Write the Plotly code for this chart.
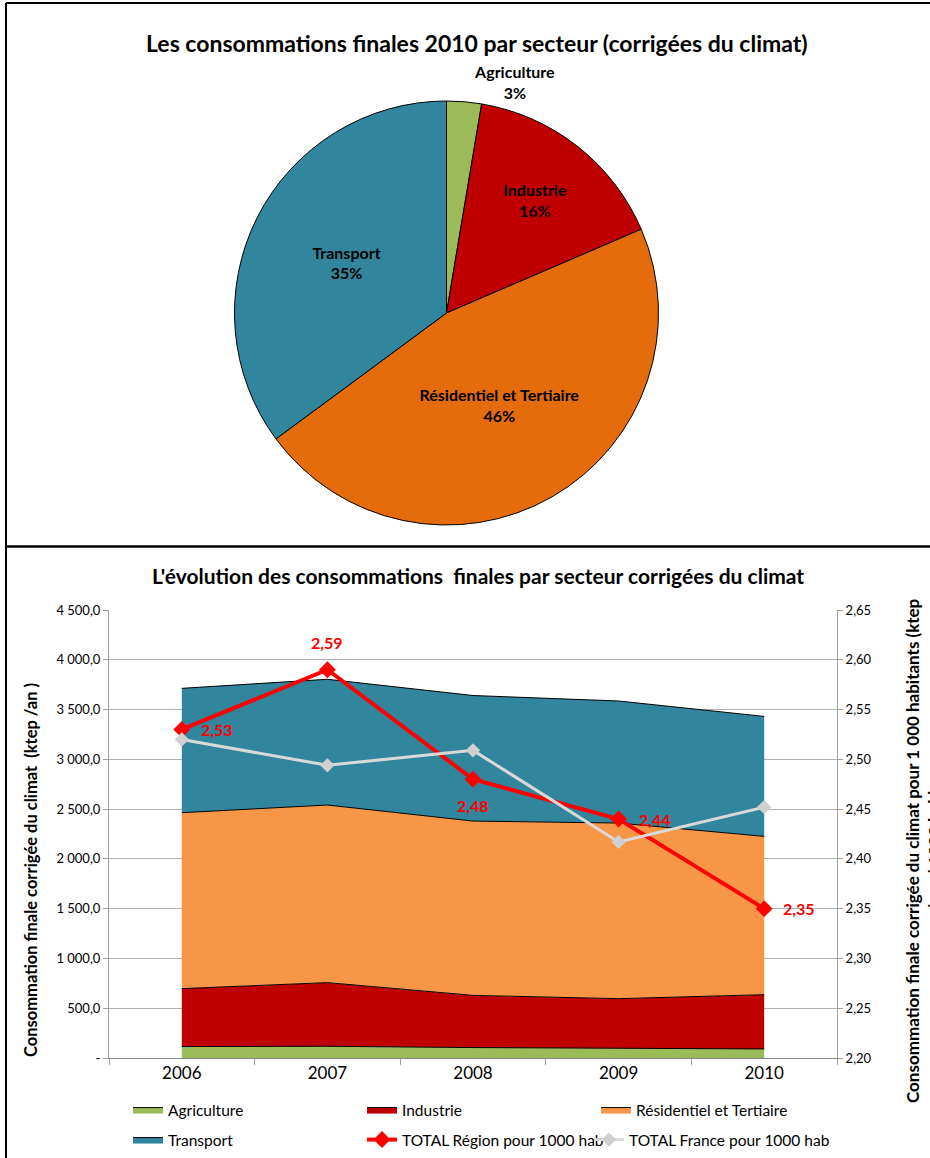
import plotly.graph_objects as go

# ---------------- data ----------------
years = ["2006", "2007", "2008", "2009", "2010"]
sectors = ["Agriculture", "Industrie", "Résidentiel et Tertiaire", "Transport"]
agriculture = [115, 118, 105, 98, 91]
industrie = [582, 639, 524, 498, 545]
residentiel = [1767, 1784, 1751, 1764, 1590]
transport = [1249, 1263, 1261, 1226, 1205]
total_region = [2.53, 2.59, 2.48, 2.44, 2.35]
total_france = [2.52, 2.494, 2.509, 2.417, 2.452]

left_tickvals = [0, 500, 1000, 1500, 2000, 2500, 3000, 3500, 4000, 4500]
left_ticktext = ["-", "500,0", "1 000,0", "1 500,0", "2 000,0", "2 500,0",
                 "3 000,0", "3 500,0", "4 000,0", "4 500,0"]
right_tickvals = [2.20, 2.25, 2.30, 2.35, 2.40, 2.45, 2.50, 2.55, 2.60, 2.65]
right_ticktext = ["2,20", "2,25", "2,30", "2,35", "2,40", "2,45", "2,50",
                  "2,55", "2,60", "2,65"]

pie_values = [agriculture[-1], industrie[-1], residentiel[-1], transport[-1]]

# ---------------- styles ----------------
W, H = 930, 1158
FONT = "Lato"
pie_colors = ["#9BBB59", "#C00000", "#E46C0A", "#31859C"]
area_colors = ["#9BBB59", "#C00000", "#F79646", "#31859C"]
# label offsets (pixels) for the TOTAL Région data labels: right, above, below, right, right
label_shift = [(35, 0), (0, 27), (0, -26), (36, 0), (35, 0)]


def px_x(x):
    return x / W


def px_y(y):
    return 1 - y / H


fig = go.Figure()

# pie
fig.add_trace(go.Pie(
    labels=sectors,
    values=pie_values,
    sort=False,
    direction="clockwise",
    rotation=0,
    marker=dict(colors=pie_colors, line=dict(color="#000000", width=1)),
    texttemplate="<b>%{label}</b><br><b>%{percent:.0%}</b>",
    textposition=["outside", "inside", "inside", "inside"],
    insidetextorientation="horizontal",
    textfont=dict(family=FONT, size=16, color="#000000"),
    showlegend=False,
    domain=dict(x=[px_x(234), px_x(659)], y=[px_y(525), px_y(101)]),
    hoverinfo="label+percent",
))

# stacked areas
legend_of = ["legend", "legend", "legend", "legend2"]
for name, vals, col, lg in zip(sectors, [agriculture, industrie, residentiel, transport],
                               area_colors, legend_of):
    fig.add_trace(go.Scatter(
        x=years, y=vals, name=name, stackgroup="one", mode="lines",
        line=dict(color="#000000", width=1), fillcolor=col,
        xaxis="x", yaxis="y", legend=lg,
    ))

fig.add_trace(go.Scatter(
    x=years, y=total_region, name="TOTAL Région pour 1000 hab",
    mode="lines+markers",
    line=dict(color="#FF0000", width=4),
    marker=dict(symbol="diamond", size=13, color="#FF0000"),
    xaxis="x", yaxis="y2", legend="legend4",
))
fig.add_trace(go.Scatter(
    x=years, y=total_france, name="TOTAL France pour 1000 hab",
    mode="lines+markers",
    line=dict(color="#D9D9D9", width=3),
    marker=dict(symbol="diamond", size=11, color="#D0D0D0"),
    xaxis="x", yaxis="y2", legend="legend3",
))

annotations = [
    dict(text="<b>Les consommations finales 2010 par secteur (corrigées du climat)</b>",
         x=px_x(477), y=px_y(43), xref="paper", yref="paper", showarrow=False,
         xanchor="center", yanchor="middle",
         font=dict(family=FONT, size=23, color="#000000")),
    dict(text="<b>L'évolution des consommations  finales par secteur corrigées du climat</b>",
         x=px_x(478), y=px_y(575), xref="paper", yref="paper", showarrow=False,
         xanchor="center", yanchor="middle",
         font=dict(family=FONT, size=21, color="#000000")),
    dict(text="<b>Consommation finale corrigée du climat  (ktep /an )</b>",
         x=px_x(31), y=px_y(870), xref="paper", yref="paper", showarrow=False,
         xanchor="center", yanchor="middle",
         textangle=-90, font=dict(family=FONT, size=16.5, color="#000000")),
    dict(text="<b>Consommation finale corrigée du climat pour 1 000 habitants (ktep<br>/ an / 1000 hab)</b>",
         x=px_x(923), y=px_y(851), xref="paper", yref="paper", showarrow=False,
         xanchor="center", yanchor="middle",
         textangle=-90, font=dict(family=FONT, size=17, color="#000000")),
]
# data labels of the regional total (x given as category index of the year)
for i, (v, (dx, dy)) in enumerate(zip(total_region, label_shift)):
    annotations.append(dict(
        text="<b>" + f"{v:.2f}".replace(".", ",") + "</b>",
        x=i, y=v, xref="x", yref="y2", showarrow=False,
        xanchor="center", yanchor="middle", xshift=dx, yshift=dy,
        font=dict(family=FONT, size=16, color="#FF0000"),
    ))

axis_font = dict(family=FONT, size=13, color="#000000")
legend_common = dict(
    orientation="h", xanchor="left", yanchor="middle",
    xref="paper", yref="paper",
    traceorder="normal", entrywidthmode="pixels",
    font=dict(family=FONT, size=15.5, color="#000000"),
    itemwidth=30, bgcolor="rgba(0,0,0,0)",
)
fig.update_layout(
    width=W, height=H,
    margin=dict(l=0, r=0, t=0, b=0, autoexpand=False),
    paper_bgcolor="white", plot_bgcolor="white",
    font=dict(family=FONT, color="#000000"),
    xaxis=dict(
        domain=[px_x(109), px_x(837)], anchor="y", type="category",
        range=[-0.5, 4.5],
        tickson="boundaries", ticks="outside", ticklen=6, tickcolor="#A0A0A0",
        showline=True, linecolor="#868686", linewidth=1,
        showgrid=False, tickfont=dict(family=FONT, size=17, color="#000000"),
    ),
    yaxis=dict(
        domain=[px_y(1058), px_y(610)], anchor="x",
        range=[0, 4500], tickvals=left_tickvals, ticktext=left_ticktext,
        ticks="outside", ticklen=5, tickcolor="#A0A0A0",
        showline=True, linecolor="#A0A0A0", linewidth=1,
        showgrid=True, gridcolor="#B0B0B0", gridwidth=1, zeroline=False,
        tickfont=axis_font,
    ),
    yaxis2=dict(
        overlaying="y", side="right", anchor="x",
        range=[2.20, 2.65], tickvals=right_tickvals, ticktext=right_ticktext,
        ticks="outside", ticklen=5, tickcolor="#A0A0A0",
        showline=True, linecolor="#A0A0A0", linewidth=1,
        showgrid=False, zeroline=False, tickfont=axis_font,
    ),
    legend=dict(x=px_x(128), y=px_y(1110), entrywidth=189, **legend_common),
    legend2=dict(x=px_x(128), y=px_y(1140), entrywidth=189, **legend_common),
    legend4=dict(x=px_x(362), y=px_y(1140), entrywidth=200, **legend_common),
    legend3=dict(x=px_x(589), y=px_y(1140), entrywidth=220, **legend_common),
    annotations=annotations,
    shapes=[
        dict(type="line", xref="paper", yref="paper", x0=px_x(6), x1=px_x(6), y0=0, y1=px_y(3),
             line=dict(color="#000000", width=2)),
        dict(type="line", xref="paper", yref="paper", x0=px_x(6), x1=1, y0=px_y(3), y1=px_y(3),
             line=dict(color="#000000", width=2)),
        dict(type="line", xref="paper", yref="paper", x0=px_x(6), x1=1, y0=px_y(546.5), y1=px_y(546.5),
             line=dict(color="#000000", width=2.5)),
    ],
)

fig.write_html("out.html")
